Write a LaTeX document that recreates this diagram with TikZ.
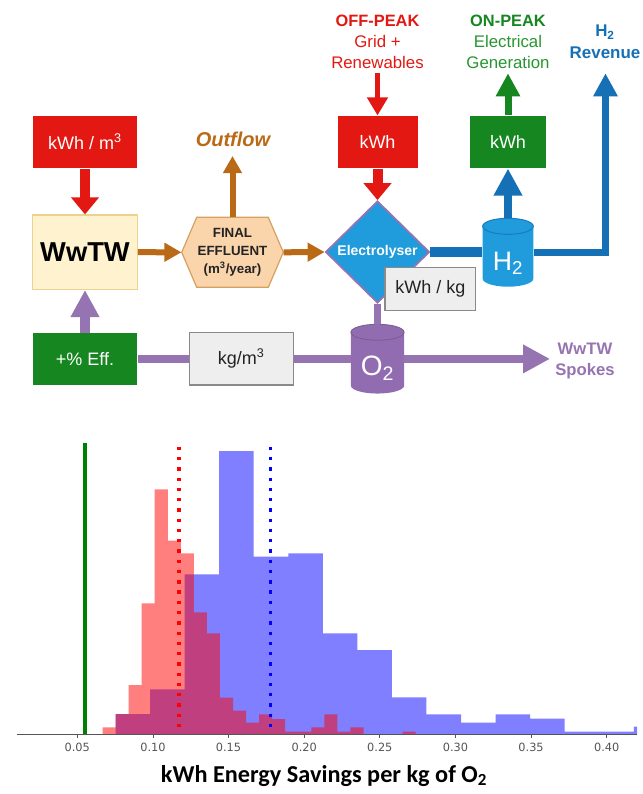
\documentclass[tikz,border=0pt]{standalone}
\usepackage{fontspec}
\setmainfont{Liberation Sans}
\newfontfamily\calfont{Carlito}
\newfontfamily\dvfont{DejaVu Sans}
\usetikzlibrary{arrows.meta,shapes.geometric,calc}

\definecolor{cRed}{RGB}{228,24,18}
\definecolor{cGreen}{RGB}{22,135,32}
\definecolor{cGreenTxt}{RGB}{40,150,48}
\definecolor{cBlue}{RGB}{22,112,182}
\definecolor{cBlueFill}{RGB}{32,156,220}
\definecolor{cBlueEdge}{RGB}{24,125,190}
\definecolor{cPurple}{RGB}{150,116,178}
\definecolor{cPurpleFill}{RGB}{146,108,176}
\definecolor{cBrown}{RGB}{186,106,22}
\definecolor{cPeach}{RGB}{250,213,172}
\definecolor{cPeachLine}{RGB}{214,160,96}
\definecolor{cCream}{RGB}{255,242,206}
\definecolor{cCreamLine}{RGB}{236,210,140}
\definecolor{cGrayFill}{RGB}{238,238,238}
\definecolor{cGrayLine}{RGB}{138,138,138}
\definecolor{cInk}{RGB}{35,35,35}
\definecolor{cTick}{RGB}{85,85,85}
\definecolor{cMeanGreen}{RGB}{0,128,0}

\tikzset{
  box/.style={rectangle, inner sep=0pt, font=\fontsize{13.5}{16}\selectfont},
  redbox/.style={box, fill=cRed, text=white},
  greenbox/.style={box, fill=cGreen, text=white},
  graybox/.style={box, fill=cGrayFill, draw=cGrayLine, line width=0.9pt, text=cInk},
  redArrow/.style={draw=cRed, line width=7.5pt, -{Triangle[length=12.75pt,width=20.25pt]}},
  redThin/.style={draw=cRed, line width=3.75pt, -{Triangle[length=13.5pt,width=15pt]}},
  brownArrow/.style={draw=cBrown, line width=4.5pt, -{Triangle[length=12.75pt,width=13.5pt]}},
  greenArrow/.style={draw=cGreen, line width=5.25pt, -{Triangle[length=17.25pt,width=17.25pt]}},
  blueArrow/.style={draw=cBlue, line width=6pt, -{Triangle[length=20.25pt,width=20.25pt]}},
  blueLine/.style={draw=cBlue, line width=7pt},
  blueRev/.style={draw=cBlue, line width=5.25pt, line join=miter, -{Triangle[length=17.25pt,width=17.25pt]}},
  purpleLine/.style={draw=cPurple, line width=6pt},
  purpleArrow/.style={draw=cPurple, line width=6pt, -{Triangle[length=20.25pt,width=20.25pt]}},
  purpleUp/.style={draw=cPurple, line width=7.5pt, -{Triangle[length=20.25pt,width=20.25pt]}},
  toplabel/.style={align=center, inner sep=0pt, font=\fontsize{12.6}{15.6}\selectfont},
  ticklabel/.style={text=cTick, font=\dvfont\fontsize{8.5}{9}\selectfont, inner sep=0pt},
}

\begin{document}
\begin{tikzpicture}[x=0.75pt,y=-0.75pt]
\useasboundingbox (0,0) rectangle (643,794);
\fill[white] (0,0) rectangle (643,794);

% ---------------- process boxes ----------------
\node[redbox, minimum width=78.45pt, minimum height=39.45pt] (m3) at (85,142) {kWh / m\textsuperscript{3}};
\node[box, fill=cCream, draw=cCreamLine, line width=1pt, minimum width=78.45pt, minimum height=55.7pt,
      font=\bfseries\fontsize{20.5}{24}\selectfont] (wwtw) at (85,252.2) {WwTW};
\node[greenbox, minimum width=78.45pt, minimum height=39.2pt] (eff) at (85,358.9) {+\% Eff.};
\node[graybox, minimum width=78pt, minimum height=39.2pt] (kgm3) at (241.3,358.9) {kg/m\textsuperscript{3}};

% final effluent hexagon
\filldraw[fill=cPeach, draw=cPeachLine, line width=0.9pt]
  (181.7,252.3) -- (196.7,217.3) -- (268.3,217.3) -- (283.3,252.3) -- (268.3,287.3) -- (196.7,287.3) -- cycle;
\node[rectangle, inner sep=0pt, minimum width=76.2pt, minimum height=52.5pt, align=center, text=cInk,
      font=\bfseries\fontsize{10}{13.5}\selectfont] (fe) at (232.5,252.3) {FINAL\\EFFLUENT\\(m\textsuperscript{3}/year)};

\node[redbox, minimum width=60pt, minimum height=39.45pt] (off) at (377.5,142) {kWh};
\node[greenbox, minimum width=57pt, minimum height=39.45pt] (on) at (508,142) {kWh};

% electrolyser
\node[diamond, aspect=1, fill=cBlueFill, draw=cPurple, line width=1.3pt, inner sep=0pt,
      minimum width=78pt, minimum height=76.5pt, text=white,
      font=\bfseries\fontsize{10.5}{12}\selectfont] (dia) at (377.5,252) {Electrolyser};

% gas storage tanks
\fill[cBlueFill] (482.7,226.3) -- (482.7,278.7) arc[start angle=180,end angle=0,x radius=25.3,y radius=8]
  -- (533.3,226.3) arc[start angle=360,end angle=180,x radius=25.3,y radius=8] -- cycle;
\draw[cBlueEdge, line width=0.8pt] (508,226.3) ellipse[x radius=25.3, y radius=8];
\node[rectangle, inner sep=0pt, minimum width=38pt, minimum height=51.3pt, text=white,
      font=\fontsize{20}{22}\selectfont] (h2) at (508,252.5) {\raisebox{-13.2pt}[0pt][0pt]{H\textsubscript{2}}};

\fill[cPurpleFill] (350.85,332.25) -- (350.85,385.55) arc[start angle=180,end angle=0,x radius=26.65,y radius=8]
  -- (404.15,332.25) arc[start angle=360,end angle=180,x radius=26.65,y radius=8] -- cycle;
\draw[cPurple!80!black, line width=0.6pt] (377.5,332.25) ellipse[x radius=26.65, y radius=8];
\node[rectangle, inner sep=0pt, minimum width=40pt, minimum height=52pt, text=white,
      font=\fontsize{21}{23}\selectfont] (o2) at (377.5,358.9) {\raisebox{-12.8pt}[0pt][0pt]{O\textsubscript{2}}};

\node[graybox, minimum width=68pt, minimum height=32.55pt] (kwhkg) at (430.3,289) {kWh / kg};

% ---------------- labels ----------------
\node[toplabel, text=cBrown, font=\bfseries\itshape\fontsize{15}{18}\selectfont] (outflow) at (233,139) {Outflow};
\node[toplabel, text=cRed] (offlbl) at (377.5,42) {{\bfseries\fontsize{12.3}{15.6}\selectfont OFF-PEAK}\\Grid +\\Renewables};
\node[toplabel, text=cGreenTxt] (onlbl) at (508,42) {{\color{cGreen}\bfseries\fontsize{12.3}{15.6}\selectfont ON-PEAK}\\Electrical\\Generation};
\node[toplabel, text=cBlue, font=\bfseries\fontsize{12.7}{16.7}\selectfont] (revlbl) at (605,42) {H\textsubscript{2}\\Revenue};
\node[toplabel, text=cPurple, font=\bfseries\fontsize{12.5}{16}\selectfont] (spokes) at (585,361) {WwTW\\Spokes};

\coordinate (outtip) at (232.5,156);
\coordinate (offsrc) at (377.5,73.3);
\coordinate (ontip) at (508,73.3);
\coordinate (revtip) at (605.5,73.3);
\coordinate (spoketip) at (550,358.9);

% ---------------- connectors ----------------
\draw[redArrow] (m3.south) -- (wwtw.north);
\draw[redThin] (offsrc) -- (off.north);
\draw[redArrow] (off.south) -- (dia.north);
\draw[brownArrow] (wwtw.east) -- (fe.west);
\draw[brownArrow] (fe.north) -- (outtip);
\draw[brownArrow] (fe.east) -- (dia.west);
\draw[greenArrow] (on.north) -- (ontip);
\draw[blueArrow] (h2.north) -- (on.south);
\draw[blueLine] (dia.east) -- (dia.east -| h2.west);
\draw[blueRev] (h2.east) -| (revtip);
\draw[draw=cPurple, line width=5.25pt] (dia.south) -- (o2.north);
\draw[purpleLine] (eff.east) -- (kgm3.west);
\draw[purpleLine] (kgm3.east) -- (o2.west);
\draw[purpleArrow] (o2.east) -- (spoketip);
\draw[purpleUp] (eff.north) -- (wwtw.south);

% ---------------- histogram ----------------
\fill[blue, fill opacity=0.5]
  (115.5,734.5) -- (115.5,714) -- (150.05,714) -- (150.05,689.3) -- (184.6,689.3) -- (184.6,574.3)
  -- (219.15,574.3) -- (219.15,451) -- (253.7,451) -- (253.7,556.7) -- (288.25,556.7) -- (288.25,553.3)
  -- (322.8,553.3) -- (322.8,633.3) -- (357.35,633.3) -- (357.35,650) -- (391.9,650) -- (391.9,697.3)
  -- (426.45,697.3) -- (426.45,714.3) -- (461,714.3) -- (461,722.7) -- (495.55,722.7) -- (495.55,714.3)
  -- (530.1,714.3) -- (530.1,718.7) -- (564.65,718.7) -- (564.65,731.7) -- (633.75,731.7) -- (633.75,726.7)
  -- (637,726.7) -- (637,734.5) -- cycle;
\fill[red, fill opacity=0.5]
  (102.5,734.5) -- (102.5,727.3) -- (115.55,727.3) -- (115.55,714) -- (128.6,714) -- (128.6,685)
  -- (141.65,685) -- (141.65,603.3) -- (154.7,603.3) -- (154.7,489.3) -- (167.75,489.3) -- (167.75,540.7)
  -- (180.8,540.7) -- (180.8,553.3) -- (193.85,553.3) -- (193.85,612.3) -- (206.9,612.3) -- (206.9,633.3)
  -- (219.95,633.3) -- (219.95,697.7) -- (233,697.7) -- (233,710.7) -- (246.05,710.7) -- (246.05,722.7)
  -- (259.1,722.7) -- (259.1,714.3) -- (272.15,714.3) -- (272.15,719) -- (285.2,719) -- (285.2,731.7)
  -- (311.3,731.7) -- (311.3,727.3) -- (324.35,727.3) -- (324.35,714.3) -- (337.4,714.3) -- (337.4,731.7)
  -- (350.45,731.7) -- (350.45,727.3) -- (363.5,727.3) -- (363.5,734.5) -- cycle
  (402.65,734.5) rectangle (415.7,731.7);

% reference lines
\draw[cMeanGreen, line width=3.4pt] (85,443.3) -- (85,734.5);
\draw[red, line width=2.5pt, dash pattern=on 2.5pt off 5.2pt] (179,446.7) -- (179,734.5);
\draw[blue, line width=2.5pt, dash pattern=on 2.5pt off 5.2pt] (270.7,446.7) -- (270.7,734.5);

% axis
\draw[cTick, line width=0.75pt] (16.7,734.5) -- (637,734.5);
\foreach \v/\lab [count=\i] in {0.05/0.05,0.10/0.10,0.15/0.15,0.20/0.20,0.25/0.25,0.30/0.30,0.35/0.35,0.40/0.40}{
  \pgfmathsetmacro{\xx}{77.3+(\v-0.05)*1512.6}
  \draw[cTick, line width=0.6pt] (\xx,734.5) -- (\xx,738);
  \node[ticklabel] (tk\i) at (\xx,747.5) {\lab};
}

\node[inner sep=0pt, font=\calfont\bfseries\fontsize{18.2}{22}\selectfont] (title) at (324,776)
  {kWh Energy Savings per kg of O\textsubscript{2}};
\end{tikzpicture}
\end{document}
